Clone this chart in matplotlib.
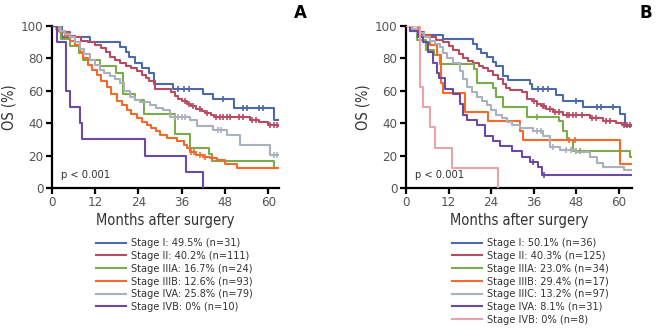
import numpy as np
import matplotlib
matplotlib.use('Agg')
import matplotlib.pyplot as plt

plt.rcParams['font.family'] = ['DejaVu Sans']
plt.rcParams['font.stretch'] = 'condensed'

# colours per stage
c_blue = '#4c6aa6'
c_red = '#b84a62'
c_green = '#7aad4a'
c_orange = '#f56a2a'
c_grey = '#a9b1bd'
c_purple = '#6b4aa6'
c_pink = '#e8a3ab'

x_ticks = [0, 12, 24, 36, 48, 60]
y_ticks = [0, 20, 40, 60, 80, 100]

# ---- panel A ----
a_labels = ['Stage I: 49.5% (n=31)', 'Stage II: 40.2% (n=111)', 'Stage IIIA: 16.7% (n=24)',
            'Stage IIIB: 12.6% (n=93)', 'Stage IVA: 25.8% (n=79)', 'Stage IVB: 0% (n=10)']

a1_t = [0, 2.7, 10.5, 19, 20.5, 21.5, 23, 25, 27, 28.3, 33.7, 42, 44.8, 50.4, 61.5, 63]
a1_s = [100, 93.5, 90.3, 87.1, 83.9, 80.6, 77.4, 74.2, 71, 64.5, 61.3, 58, 54.8, 49.5, 42, 42]
a1_c = [35, 36.5, 38, 47.5, 53, 54, 57.5, 58.5]

a2_t = [0, 1, 2, 3.5, 5, 6.5, 8, 10, 12, 13.5, 15, 16, 17.5, 19, 20.5, 22, 23.5, 25, 26, 27,
        28.5, 33, 34, 35, 36, 37.5, 38.5, 40, 41.5, 42.5, 44, 45, 55, 57.5, 60, 63]
a2_s = [100, 99, 97, 96, 94, 93, 91, 90, 88, 86.5, 84, 81, 79, 77, 75.5, 74, 72, 70, 68, 66,
        61, 59.5, 57, 55, 53.5, 52, 50.5, 49, 47.5, 46, 45, 44, 42, 40.5, 39, 38.5]
a2_c = [37, 38, 39, 41, 43, 45.5, 46.5, 47.5, 48.5, 49.5, 52, 53, 55.5, 56.5, 60.5, 61.5, 62.5]

a3_t = [0, 2.5, 5, 7.5, 8.5, 13.3, 17.8, 19.8, 23, 25.4, 34, 38.3, 43.5, 44.5, 61.5, 63]
a3_s = [100, 91.7, 87.5, 83.3, 79.2, 75, 70.8, 58.3, 54.2, 45.8, 33.3, 25, 20.8, 16.7, 12.5, 12.5]
a3_c = []

a4_t = [0, 1, 2.2, 3.5, 5, 6.5, 7.8, 8.7, 10, 11, 12.4, 13.5, 15.2, 16.5, 18, 19.5, 20.7, 22,
        23.5, 25, 26.3, 27.5, 29, 30, 32, 34.6, 36.5, 37.5, 38.3, 40, 42, 43.9, 45.7, 48, 51.3, 63]
a4_s = [100, 98, 96, 94, 91, 88, 84, 80, 76, 73, 70, 66, 62.5, 58, 54, 51, 48, 45.5,
        43, 41, 39, 37, 35, 32.5, 31, 29, 26.5, 24.5, 22.4, 20.4, 19.4, 18.5, 17.3, 15, 12.6, 12.6]
a4_c = [38.5, 39.5, 41, 42.5, 44.5]

a5_t = [0, 1, 2.2, 3.5, 5, 6.5, 7.8, 9, 10.5, 12, 13.3, 14.5, 16, 17.5, 18.9, 20, 21.7, 23,
        24.4, 27.2, 29, 30.9, 32.8, 38.3, 40.2, 44.8, 48.5, 52.2, 60.6, 63]
a5_s = [100, 99, 97, 95, 93, 90, 86, 82.5, 79, 76, 73, 71, 69, 67, 65, 60, 56, 54.5,
        53, 51, 49.5, 48, 44, 42, 38, 36, 33, 26.5, 20.4, 20.4]
a5_c = [34, 35, 36, 37, 46, 46.8, 61.5, 62.5]

a6_t = [0, 1.3, 3.9, 5, 7.8, 8.2, 25.8, 37.1, 42]
a6_s = [100, 90, 60, 50, 40, 30, 20, 10, 0]
a6_c = []

# ---- panel B ----
b_labels = ['Stage I: 50.1% (n=36)', 'Stage II: 40.3% (n=125)', 'Stage IIIA: 23.0% (n=34)',
            'Stage IIIB: 29.4% (n=17)', 'Stage IIIC: 13.2% (n=97)', 'Stage IVA: 8.1% (n=31)',
            'Stage IVB: 0% (n=8)']

b1_t = [0, 1.1, 3.5, 10.5, 19, 20, 21, 22.7, 24.6, 25.5, 27.4, 28.8, 34.9, 35.4, 42.4, 44.3,
        50, 60.3, 61.7, 63.7]
b1_s = [100, 97.2, 94.4, 91.7, 88.9, 86.1, 83.3, 80.6, 77.8, 75, 69.4, 66.7, 63.9, 61.1, 57.1,
        53.5, 50.1, 45.6, 38.5, 38.5]
b1_c = [37.3, 38.7, 40.1, 48, 53.7, 55.1, 58.4]

b2_t = [0, 1, 3, 5, 6.8, 8.5, 10.5, 12, 13.3, 14.8, 16.2, 17.5, 19, 20.5, 21.8, 23, 24.6, 26,
        27.4, 28.3, 29.3, 32.6, 34, 35.5, 36.8, 38, 39.6, 41.5, 44.3, 50, 51.8, 55.6, 59.3, 61, 63.7]
b2_s = [100, 98, 96, 94.5, 93, 91.5, 90, 87.5, 85, 82.5, 80, 78.5, 77, 75.5, 74, 72, 70, 67,
        64, 62, 60.5, 59.5, 55, 53.5, 52, 50.5, 49, 47, 45, 45, 43, 41.5, 40.3, 39, 38.5]
b2_c = [36, 37, 38.5, 39, 40.5, 42, 43, 45.5, 46, 47, 48, 49.5, 52.5, 53.5, 56.5, 57.5,
        61.5, 62.3, 63]

b3_t = [0, 1.6, 3, 5.5, 8, 9.6, 19.2, 20, 24.6, 25.5, 27.4, 34, 43, 44.3, 45.3, 47, 63, 63.7]
b3_s = [100, 97.1, 91.2, 85.3, 82.4, 76.5, 73.5, 64.7, 61.8, 55.9, 50, 44.1, 41.2, 35.3, 29.4,
        23.0, 19, 19]
b3_c = [37, 48, 49]

b4_t = [0, 3.5, 6.8, 8.8, 10, 10.5, 16.6, 23.2, 32.1, 33, 60.3, 63.7]
b4_s = [100, 94.1, 88.2, 82.4, 64.7, 58.8, 47.1, 41.2, 35.3, 29.4, 14.7, 14.7]
b4_c = [46, 47.5]

b5_t = [0, 1.5, 3, 5, 6.8, 8.2, 9.6, 10.5, 11.5, 13.3, 15.2, 16, 17.1, 18.5, 19.9, 21.3, 22.7,
        24, 25.5, 27, 28.4, 30, 32.1, 35.9, 38.7, 40.6, 43.4, 48, 51.8, 53.7, 55.6, 61.5, 63.7]
b5_s = [100, 98, 95.5, 93, 91, 89, 87, 83.5, 80, 77, 72, 67, 62.5, 59, 56, 53.5, 51,
        48, 45, 43, 41, 39, 37, 35, 32, 25.5, 23.5, 22.4, 19.3, 15.2, 13.2, 11.3, 11.3]
b5_c = [37, 38, 41.5, 45, 46.5]

b6_t = [0, 1.1, 3.5, 4.9, 6.3, 7.7, 8.6, 9.2, 11, 13.3, 15.2, 16.2, 17.1, 19.9, 22.3, 24.6,
        26.5, 29.8, 32.6, 34.9, 37.3, 38.2, 63.7]
b6_s = [100, 96.8, 93.5, 90.3, 83.9, 77.4, 71, 67.7, 61.3, 58.1, 51.6, 45.2, 41.9, 38.7, 32.3,
        29, 25.8, 22.6, 19.4, 16.1, 12.9, 8.1, 8.1]
b6_c = [35.8, 39]

b7_t = [0, 3.9, 4.9, 6.8, 8.2, 12.9, 26]
b7_s = [100, 62.5, 50, 37.5, 25, 12.5, 0]
b7_c = []


def surv_at(t, s, x):
    i = np.searchsorted(t, x, side='right') - 1
    return np.asarray(s)[i]


def draw_km(ax, curves, colors, labels, xmax):
    handles = []
    for k, ((t, s, c), col, lab) in enumerate(zip(curves, colors, labels)):
        h, = ax.step(t, s, where='post', color=col, lw=1.5, zorder=3 + k, label=lab)
        if c:
            ax.plot(c, surv_at(t, s, c), ls='none', marker='|', ms=5, mew=1.2,
                    color=col, zorder=3 + k)
        handles.append(h)
    ax.set_xlim(0, xmax)
    ax.set_ylim(0, 100)
    ax.set_xticks(x_ticks)
    ax.set_yticks(y_ticks)
    for side in ['top', 'right']:
        ax.spines[side].set_visible(False)
    for side in ['left', 'bottom']:
        ax.spines[side].set_linewidth(1.6)
    ax.tick_params(width=1.6, length=4, labelsize=9.5, labelcolor='#555555', pad=2)
    ax.set_xlabel('Months after surgery', fontsize=10.5, color='#333333', labelpad=3)
    ax.set_ylabel('OS (%)', fontsize=10.5, color='#333333', labelpad=3)
    ax.text(2.5, 6, 'p < 0.001', fontsize=8, color='#333333')
    return handles


fig = plt.figure(figsize=(6.63, 3.3), dpi=100)
axA = fig.add_axes([52 / 663, 142 / 330, 227 / 663, 162 / 330])
axB = fig.add_axes([406 / 663, 142 / 330, 226 / 663, 162 / 330])

curvesA = [(a1_t, a1_s, a1_c), (a2_t, a2_s, a2_c), (a3_t, a3_s, a3_c),
           (a4_t, a4_s, a4_c), (a5_t, a5_s, a5_c), (a6_t, a6_s, a6_c)]
colorsA = [c_blue, c_red, c_green, c_orange, c_grey, c_purple]
hA = draw_km(axA, curvesA, colorsA, a_labels, 63)

curvesB = [(b1_t, b1_s, b1_c), (b2_t, b2_s, b2_c), (b3_t, b3_s, b3_c), (b4_t, b4_s, b4_c),
           (b5_t, b5_s, b5_c), (b6_t, b6_s, b6_c), (b7_t, b7_s, b7_c)]
colorsB = [c_blue, c_red, c_green, c_orange, c_grey, c_purple, c_pink]
hB = draw_km(axB, curvesB, colorsB, b_labels, 63.7)

for h, lab, x0 in [(hA, a_labels, 96), (hB, b_labels, 452)]:
    fig.legend(h, lab, loc='upper left', bbox_to_anchor=(x0 / 663, 1 - 238.5 / 330),
               frameon=False, fontsize=7.8, handlelength=2.8, handletextpad=0.4,
               labelspacing=0.25, borderpad=0, borderaxespad=0, labelcolor='#333333')

fig.text(300 / 663, 1 - 13 / 330, 'A', fontsize=12, fontweight='bold', ha='center', va='center',
         fontstretch='normal')
fig.text(646 / 663, 1 - 13 / 330, 'B', fontsize=12, fontweight='bold', ha='center', va='center',
         fontstretch='normal')

fig.savefig('out.png', dpi=100)
